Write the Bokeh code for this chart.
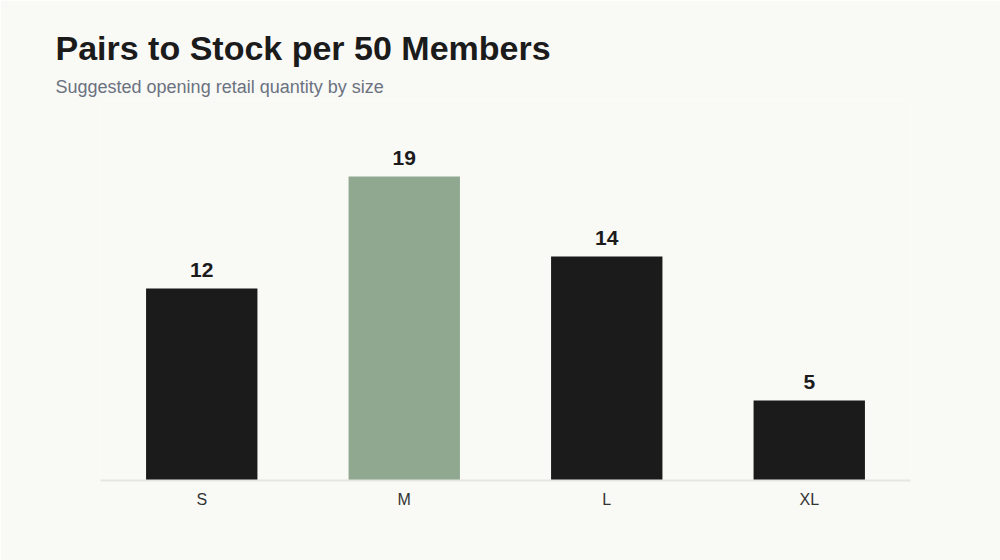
from bokeh.plotting import figure
from bokeh.models import ColumnDataSource, Title, Range1d
from bokeh.core.properties import value
from bokeh.embed import file_html
from bokeh.resources import INLINE

sizes = ["S", "M", "L", "XL"]
pairs = [12, 19, 14, 5]
bar_colors = ["#1b1b1b", "#8fa88f", "#1b1b1b", "#1b1b1b"]
labels = [str(v) for v in pairs]

BG = "#f9f9f6"
FONT = "Liberation Sans"

source = ColumnDataSource(dict(size=sizes, pairs=pairs, color=bar_colors, label=labels))

p = figure(
    x_range=sizes,
    y_range=Range1d(0, 23.75),
    width=1000,
    height=560,
    output_backend="svg",
    toolbar_location=None,
    min_border_left=100,
    min_border_right=90,
    min_border_bottom=80,
    min_border_top=100,
)
p.background_fill_color = BG
p.border_fill_color = BG
p.outline_line_color = None

p.vbar(x="size", top="pairs", width=0.55, source=source,
       fill_color="color", line_color=None)

p.text(x="size", y="pairs", text="label", source=source,
       text_align="center", text_baseline="bottom", y_offset=-12,
       text_font=value(FONT), text_font_style="bold",
       text_font_size="21px", text_color="#1b1b1b")

p.xgrid.grid_line_color = None
p.ygrid.grid_line_color = None
p.yaxis.visible = False
p.xaxis.axis_line_color = "#e6e6e2"
p.xaxis.axis_line_width = 2
p.xaxis.major_tick_line_color = None
p.xaxis.minor_tick_line_color = None
p.xaxis.major_label_text_font = FONT
p.xaxis.major_label_text_font_size = "16px"
p.xaxis.major_label_text_color = "#333333"
p.xaxis.major_label_standoff = 4
p.x_range.range_padding = 0

# subtitle sits closest to the frame, main title above it
p.add_layout(Title(text="Suggested opening retail quantity by size",
                   text_font=FONT, text_font_size="18px",
                   text_font_style="normal", text_color="#6b7280",
                   offset=-45, standoff=8), "above")
p.add_layout(Title(text="Pairs to Stock per 50 Members",
                   text_font=FONT, text_font_size="34px",
                   text_font_style="bold", text_color="#1b1b1b",
                   offset=-45, standoff=8), "above")

open("out.html", "w").write(file_html(p, INLINE))
